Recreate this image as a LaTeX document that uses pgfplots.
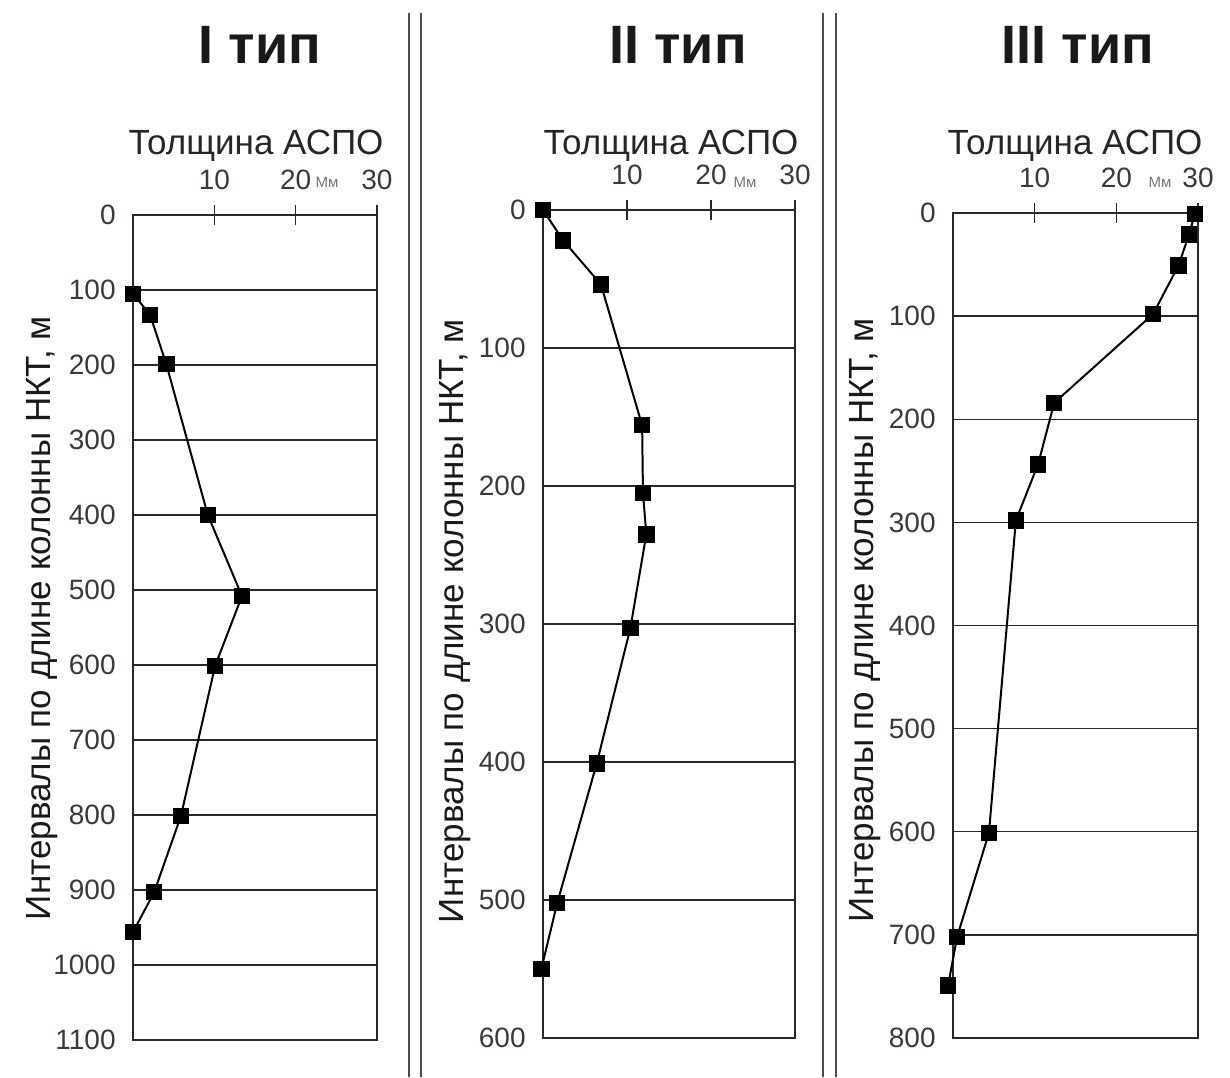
\documentclass[border=0pt]{standalone}
\usepackage{pgfplots}
\pgfplotsset{compat=1.18}
\usepackage{fontspec}
\setmainfont{Liberation Sans}
\definecolor{tickgray}{RGB}{62,54,62}
\definecolor{linegray}{RGB}{40,40,40}
\pgfplotsset{
  panel/.style={
    scale only axis, anchor=north west, clip=false,
    axis line style={line width=0.9pt, color=linegray},
    xmin=0, xmax=30, xtick={10,20,30},
    xtick pos=upper, xticklabel pos=upper,
    extra x ticks={10,20,30}, extra x tick labels={},
    extra x tick style={xtick align=outside, major tick length=5pt},
    y dir=reverse, ymin=0,
    ymajorgrids, grid style={line width=0.7pt, color=linegray},
    major x tick style={line width=0.8pt, color=linegray},
    major y tick style={draw=none},
    xtick align=inside, major tick length=5pt,
    ytick pos=left,
    /pgf/number format/assume math mode=true,
    /pgf/number format/1000 sep={},
    tick label style={font=\fontsize{14}{16}\selectfont, color=tickgray},
    xticklabel style={inner sep=0pt, anchor=base, yshift=13pt},
    yticklabel style={inner sep=0pt, anchor=east, xshift=-8.5pt},
  },
  dat/.style={line width=1pt, color=black, mark=square*, mark size=3.6pt, mark options={solid, fill=black}},
}
\begin{document}
\begin{tikzpicture}
\path[use as bounding box] (0,0) rectangle (615pt,-538.5pt);
% separators
\draw[line width=0.8pt, color=black!70] (204.5pt,-6.5pt) -- (204.5pt,-538.5pt);
\draw[line width=0.8pt, color=black!70] (210.5pt,-6.5pt) -- (210.5pt,-538.5pt);
\draw[line width=0.8pt, color=black!70] (411.5pt,-6.5pt) -- (411.5pt,-538.5pt);
\draw[line width=0.8pt, color=black!70] (418pt,-6.5pt) -- (418pt,-538.5pt);

% Panel I
\begin{axis}[panel, at={(66.5pt,-107.5pt)}, width=122pt, height=412.5pt,
  ymax=1100, ytick={0,100,...,1100}]
\addplot[dat] coordinates {(0,105) (2.1,133) (4.1,199) (9.2,400) (13.4,508) (10.1,601) (5.9,801) (2.6,903) (0,956)};
\end{axis}

% Panel II
\begin{axis}[panel, at={(271.5pt,-105pt)}, width=126pt, height=414pt,
  ymax=600, ytick={0,100,...,600}]
\addplot[dat] coordinates {(0,0) (2.4,22) (6.9,54) (11.8,156) (11.9,205) (12.3,235) (10.4,303) (6.4,401) (1.7,502) (-0.2,550)};
\end{axis}

% Panel III
\begin{axis}[panel, at={(476.5pt,-106.5pt)}, width=122.5pt, height=412.5pt,
  ymax=800, ytick={0,100,...,800}]
\addplot[dat] coordinates {(29.6,1) (28.9,21) (27.6,51) (24.5,98) (12.4,184) (10.4,244) (7.7,298) (4.4,601) (0.5,702) (-0.6,749)};
\end{axis}

% titles
\node[font=\fontsize{27}{30}\selectfont\bfseries, text=black!90] at (130pt,-22.5pt) {I тип};
\node[font=\fontsize{27}{30}\selectfont\bfseries, text=black!90] at (339pt,-22.5pt) {II тип};
\node[font=\fontsize{27}{30}\selectfont\bfseries, text=black!90] at (539pt,-22.5pt) {III тип};
% x labels
\foreach \cx in {128pt,335.5pt,537.5pt}{
  \node[font=\fontsize{17.5}{20}\selectfont, text=black!85] at (\cx,-73pt) {Толщина АСПО};
}
\node[font=\fontsize{7.5}{8}\selectfont, text=black!55] at (163.5pt,-91pt) {Мм};
\node[font=\fontsize{7.5}{8}\selectfont, text=black!55] at (372.5pt,-91pt) {Мм};
\node[font=\fontsize{7.5}{8}\selectfont, text=black!55] at (580pt,-91pt) {Мм};
% y labels
\node[rotate=90, font=\fontsize{17.5}{20}\selectfont, text=black!90] at (21pt,-309pt) {Интервалы по длине колонны НКТ, м};
\node[rotate=90, font=\fontsize{17.5}{20}\selectfont, text=black!90] at (227.5pt,-310.5pt) {Интервалы по длине колонны НКТ, м};
\node[rotate=90, font=\fontsize{17.5}{20}\selectfont, text=black!90] at (432.5pt,-310pt) {Интервалы по длине колонны НКТ, м};
\end{tikzpicture}
\end{document}
